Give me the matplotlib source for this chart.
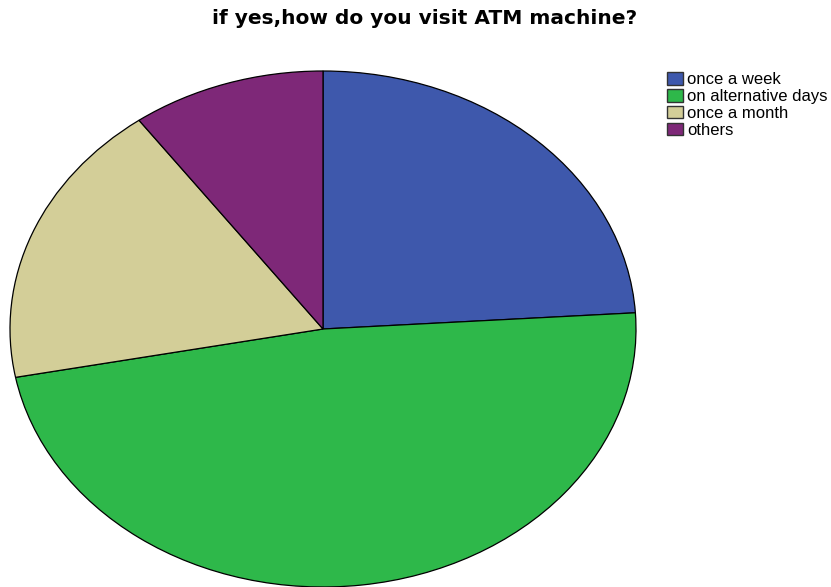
import matplotlib
matplotlib.use("Agg")
import matplotlib.pyplot as plt
from matplotlib.patches import Patch

# survey answers (counts)
labels = ["once a week", "on alternative days", "once a month", "others"]
counts = [12, 24, 9, 5]
colors = ["#3e58ac", "#2eb84a", "#d3ce98", "#7e2878"]

title = "if yes,how do you visit ATM machine?"

W, H = 831, 587
fig = plt.figure(figsize=(W / 100, H / 100), dpi=100)
plt.rcParams['font.family'] = ['Liberation Sans', 'DejaVu Sans']

# pie is stretched into an ellipse, centre (323,329), radii 313 x 258 px
cx, cy, rx, ry = 323, 329, 313, 258
ax = fig.add_axes([(cx - rx) / W, 1 - (cy + ry) / H, 2 * rx / W, 2 * ry / H])
ax.pie(counts, colors=colors, startangle=90, counterclock=False,
       wedgeprops=dict(edgecolor="black", linewidth=0.9))
ax.set_aspect('auto')
ax.set_xlim(-1, 1)
ax.set_ylim(-1, 1)
ax.axis('off')

# the original title is set wide, DejaVu bold gets closer to its width
fig.text(424.5 / W, 1 - 19 / H, title, ha="center", va="center",
         fontsize=14.5, fontweight="bold", family="DejaVu Sans")

handles = [Patch(facecolor=c, edgecolor="#333333", linewidth=1.0) for c in colors]
fig.legend(handles, labels, loc="upper left",
           bbox_to_anchor=(667 / W, 1 - 72 / H), frameon=False,
           fontsize=12, handlelength=0.95, handleheight=0.8,
           handletextpad=0.25, labelspacing=0.1, borderpad=0,
           borderaxespad=0)

fig.savefig("out.png", dpi=100)
